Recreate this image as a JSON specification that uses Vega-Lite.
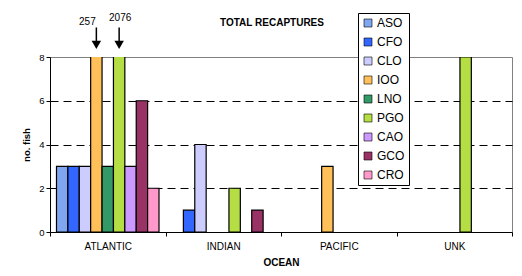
{
  "$schema": "https://vega.github.io/schema/vega-lite/v6.json",
  "width": 462,
  "height": 175,
  "autosize": {"type": "none"},
  "padding": {"left": 50, "top": 57, "right": 10, "bottom": 44},
  "background": "white",
  "config": {
    "view": {"stroke": "#808080", "strokeWidth": 1},
    "font": "Liberation Sans"
  },
  "title": {
    "text": "TOTAL RECAPTURES",
    "fontSize": 10,
    "fontWeight": "bold",
    "color": "black",
    "anchor": "middle",
    "dx": -9,
    "offset": -15
  },
  "datasets": {
    "bars": [
      {"ocean": "ATLANTIC", "series": "ASO", "fish": 3},
      {"ocean": "ATLANTIC", "series": "CFO", "fish": 3},
      {"ocean": "ATLANTIC", "series": "CLO", "fish": 3},
      {"ocean": "ATLANTIC", "series": "IOO", "fish": 257},
      {"ocean": "ATLANTIC", "series": "LNO", "fish": 3},
      {"ocean": "ATLANTIC", "series": "PGO", "fish": 2076},
      {"ocean": "ATLANTIC", "series": "CAO", "fish": 3},
      {"ocean": "ATLANTIC", "series": "GCO", "fish": 6},
      {"ocean": "ATLANTIC", "series": "CRO", "fish": 2},
      {"ocean": "INDIAN", "series": "CFO", "fish": 1},
      {"ocean": "INDIAN", "series": "CLO", "fish": 4},
      {"ocean": "INDIAN", "series": "PGO", "fish": 2},
      {"ocean": "INDIAN", "series": "GCO", "fish": 1},
      {"ocean": "PACIFIC", "series": "IOO", "fish": 3},
      {"ocean": "UNK", "series": "PGO", "fish": 8}
    ],
    "notes": [
      {"ocean": "ATLANTIC", "series": "IOO", "label": "257"},
      {"ocean": "ATLANTIC", "series": "PGO", "label": "2076"}
    ]
  },
  "encoding": {
    "x": {
      "field": "ocean",
      "type": "nominal",
      "sort": ["ATLANTIC", "INDIAN", "PACIFIC", "UNK"],
      "scale": {"domain": ["ATLANTIC", "INDIAN", "PACIFIC", "UNK"], "paddingInner": 0, "paddingOuter": 0},
      "axis": {
        "title": "OCEAN",
        "titleFontSize": 10,
        "titleFontWeight": "bold",
        "titleColor": "black",
        "titlePadding": 6,
        "labelAngle": 0,
        "labelFontSize": 10,
        "labelColor": "black",
        "labelPadding": 5,
        "tickBand": "extent",
        "tickSize": 4,
        "tickColor": "black",
        "domainColor": "black"
      }
    },
    "xOffset": {
      "field": "series",
      "type": "nominal",
      "scale": {
        "domain": ["ASO", "CFO", "CLO", "IOO", "LNO", "PGO", "CAO", "GCO", "CRO"],
        "paddingInner": 0,
        "paddingOuter": 0.57
      }
    }
  },
  "layer": [
    {
      "data": {"name": "bars"},
      "mark": {"type": "bar", "clip": true, "stroke": "black", "strokeWidth": 1.2},
      "encoding": {
        "y": {
          "field": "fish",
          "type": "quantitative",
          "scale": {"domain": [0, 8], "nice": false},
          "axis": {
            "title": "no. fish",
            "titleFontSize": 9.5,
            "titleFontWeight": "bold",
            "titleColor": "black",
            "titlePadding": 7,
            "values": [0, 2, 4, 6, 8],
            "labelFontSize": 9.5,
            "labelColor": "black",
            "labelPadding": 2,
            "tickSize": 4,
            "tickColor": "black",
            "domainColor": "black",
            "grid": true,
            "gridColor": "black",
            "gridDash": [8, 5],
            "gridOpacity": {"condition": {"test": "datum.value == 0 || datum.value == 8", "value": 0}, "value": 1}
          }
        },
        "color": {
          "field": "series",
          "type": "nominal",
          "scale": {
            "domain": ["ASO", "CFO", "CLO", "IOO", "LNO", "PGO", "CAO", "GCO", "CRO"],
            "range": ["#7FA6EE", "#3366FF", "#CCCCFF", "#FFC05A", "#339966", "#B5DD44", "#CC99FF", "#993366", "#FF99CC"]
          },
          "legend": {
            "orient": "none",
            "legendX": 308,
            "legendY": -44,
            "title": null,
            "fillColor": "white",
            "strokeColor": "black",
            "padding": 4,
            "labelFontSize": 12,
            "labelColor": "black",
            "labelOffset": 3,
            "symbolType": "square",
            "symbolSize": 64,
            "symbolStrokeColor": "black",
            "symbolStrokeWidth": 0.6,
            "symbolOpacity": 1,
            "rowPadding": 7
          }
        }
      }
    },
    {
      "data": {"name": "notes"},
      "transform": [{"filter": "datum.series == 'IOO'"}],
      "mark": {"type": "text", "fontSize": 10, "baseline": "middle", "color": "black", "dx": -9},
      "encoding": {
        "y": {"datum": 9.6, "type": "quantitative", "scale": {"domain": [0, 8], "nice": false}},
        "text": {"field": "label"}
      }
    },
    {
      "data": {"name": "notes"},
      "transform": [{"filter": "datum.series == 'PGO'"}],
      "mark": {"type": "text", "fontSize": 10, "baseline": "middle", "color": "black", "dx": 1},
      "encoding": {
        "y": {"datum": 9.8, "type": "quantitative", "scale": {"domain": [0, 8], "nice": false}},
        "text": {"field": "label"}
      }
    },
    {
      "data": {"name": "notes"},
      "mark": {"type": "rule", "strokeWidth": 1.5, "color": "black"},
      "encoding": {
        "y": {"datum": 9.35, "type": "quantitative", "scale": {"domain": [0, 8], "nice": false}},
        "y2": {"datum": 8.7}
      }
    },
    {
      "data": {"name": "notes"},
      "mark": {"type": "point", "shape": "triangle-down", "filled": true, "size": 90, "color": "black", "opacity": 1},
      "encoding": {
        "y": {"datum": 8.55, "type": "quantitative", "scale": {"domain": [0, 8], "nice": false}}
      }
    }
  ]
}
